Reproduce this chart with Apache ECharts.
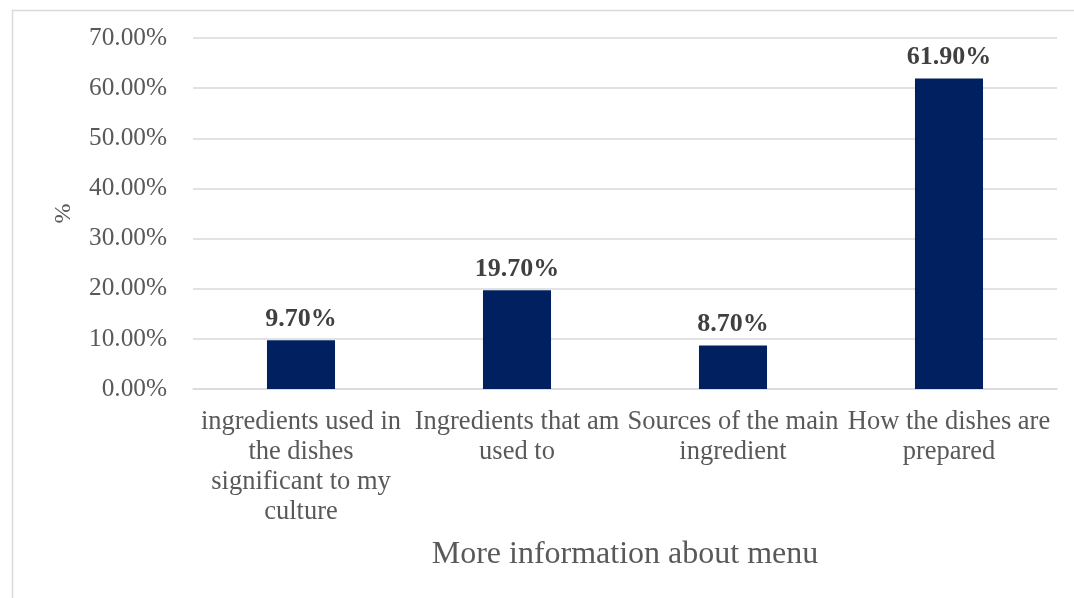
<!DOCTYPE html>
<html>
<head>
<meta charset="utf-8">
<script src="https://cdn.jsdelivr.net/npm/echarts@6/dist/echarts.min.js"></script>
<style>
  html, body { margin: 0; padding: 0; background: #fff; }
  #chart { width: 1074px; height: 598px; }
</style>
</head>
<body>
<div id="chart"></div>
<script>
// Survey responses: what extra information diners want on the menu
const categories = [
  'ingredients used in\nthe dishes\nsignificant to my\nculture',
  'Ingredients that am\nused to',
  'Sources of the main\ningredient',
  'How the dishes are\nprepared'
];
const percentages = [9.7, 19.7, 8.7, 61.9];
const yTicks = { min: 0, max: 70, interval: 10 };
const xTitle = 'More information about menu';
const yTitle = '%';

const serif = '"Liberation Serif", "Times New Roman", serif';
const chart = echarts.init(document.getElementById('chart'), null, { renderer: 'canvas' });

chart.setOption({
  animation: false,
  backgroundColor: '#ffffff',
  graphic: [{
    type: 'rect',
    left: 10, top: 8,
    shape: { width: 1200, height: 800 },
    style: { fill: 'none', stroke: '#d9d9d9', lineWidth: 1.5 },
    silent: true, z: -1
  }],
  grid: { left: 193, right: 17, top: 38, bottom: 209, containLabel: false },
  xAxis: {
    type: 'category',
    data: categories,
    name: xTitle,
    nameLocation: 'middle',
    nameGap: 150,
    nameTextStyle: { fontFamily: serif, fontSize: 32, color: '#595959' },
    axisLine: { show: true, lineStyle: { color: '#d9d9d9', width: 1.5 } },
    axisTick: { show: false },
    axisLabel: {
      interval: 0,
      margin: 18,
      fontFamily: serif,
      fontSize: 26.5,
      color: '#595959',
      lineHeight: 30,
      align: 'center'
    }
  },
  yAxis: {
    type: 'value',
    min: yTicks.min,
    max: yTicks.max,
    interval: yTicks.interval,
    name: yTitle,
    nameLocation: 'middle',
    nameGap: 117,
    nameRotate: 90,
    nameTextStyle: { fontFamily: serif, fontSize: 24, color: '#595959' },
    axisLine: { show: false },
    axisTick: { show: false },
    splitLine: { lineStyle: { color: '#d9d9d9', width: 1.5 } },
    axisLabel: {
      margin: 26,
      fontFamily: serif,
      fontSize: 25.3,
      color: '#595959',
      formatter: v => v.toFixed(2) + '%'
    }
  },
  series: [{
    type: 'bar',
    data: percentages,
    barWidth: '31.5%',
    itemStyle: { color: '#002060' },
    label: {
      show: true,
      position: 'top',
      distance: 8,
      fontFamily: serif,
      fontSize: 26,
      fontWeight: 'bold',
      color: '#404040',
      formatter: p => p.value.toFixed(2) + '%'
    }
  }]
});
</script>
</body>
</html>
